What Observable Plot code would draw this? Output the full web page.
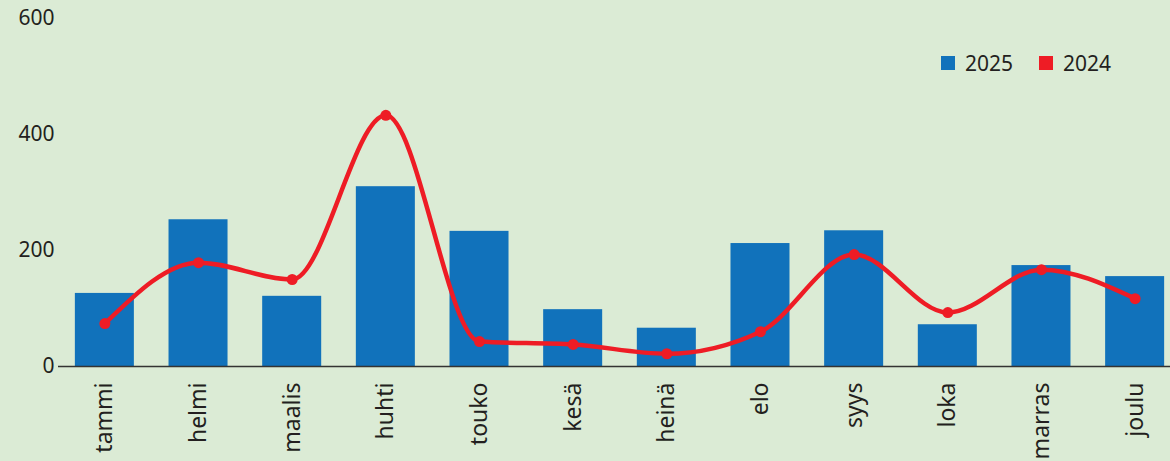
<!DOCTYPE html>
<html><head><meta charset="utf-8">
<script src="https://cdn.jsdelivr.net/npm/d3@7"></script>
<script src="https://cdn.jsdelivr.net/npm/@observablehq/plot@0.6"></script>
<style>
html,body{margin:0;padding:0;background:#dbebd5;}
#wrap{position:relative;width:1170px;height:461px;overflow:hidden;font-family:"Noto Sans",sans-serif;}
#legend{position:absolute;left:941px;top:49px;display:flex;align-items:center;font-size:21px;color:#231f20;}
#legend .sw{width:14px;height:14px;display:inline-block;margin-right:10px;}
#legend .it{display:flex;align-items:center;margin-right:26px;}
</style></head>
<body><div id="wrap"><div id="legend"></div></div>
<script>
const months = ["tammi","helmi","maalis","huhti","touko","kesä","heinä","elo","syys","loka","marras","joulu"];
const values2025 = [126,253,121,310,233,98,66,212,234,72,174,155];
const values2024 = [74,179,150,433,43,38,22,60,193,93,167,117];
const yTicks = [0,200,400,600];
const seriesNames = ["2025","2024"];
const colors = ["#1172bb","#ee1c25"];

const bars = months.map((m,i)=>({month:m, value:values2025[i]}));
const line = months.map((m,i)=>({month:m, value:values2024[i]}));

const chart = Plot.plot({
  width:1170, height:461,
  marginTop:18, marginBottom:95, marginLeft:58, marginRight:0,
  style:{background:"#dbebd5", fontFamily:"Noto Sans, sans-serif", color:"#231f20", overflow:"visible"},
  x:{domain:months, range:[58,1181], paddingInner:0.37, paddingOuter:0.18, round:false, label:null},
  y:{domain:[0,600], range:[366,18], label:null},
  marks:[
    Plot.ruleY(yTicks,{x1:56, x2:1170, stroke:"#555a55", strokeWidth:1.3, x:null}),
    Plot.barY(bars,{x:"month", y:"value", fill:colors[0]}),
    Plot.ruleY([0],{stroke:"#333", strokeWidth:1.3}),
    Plot.line(line,{x:"month", y:"value", stroke:colors[1], strokeWidth:4.5, curve:"monotone-x"}),
    Plot.dot(line,{x:"month", y:"value", fill:colors[1], r:5.5}),
    Plot.axisY(yTicks,{tickSize:0, tickPadding:4, fontSize:21, fill:"#231f20"}),
    Plot.axisX(months,{tickSize:0, tickRotate:-90, textAnchor:"end", tickPadding:16, fontSize:23, fill:"#231f20"})
  ]
});
document.getElementById("wrap").prepend(chart);
const lg = document.getElementById("legend");
seriesNames.forEach((s,i)=>{
  const it=document.createElement("div"); it.className="it";
  const sw=document.createElement("span"); sw.className="sw"; sw.style.background=colors[i];
  it.appendChild(sw); it.appendChild(document.createTextNode(s)); lg.appendChild(it);
});
</script></body></html>
